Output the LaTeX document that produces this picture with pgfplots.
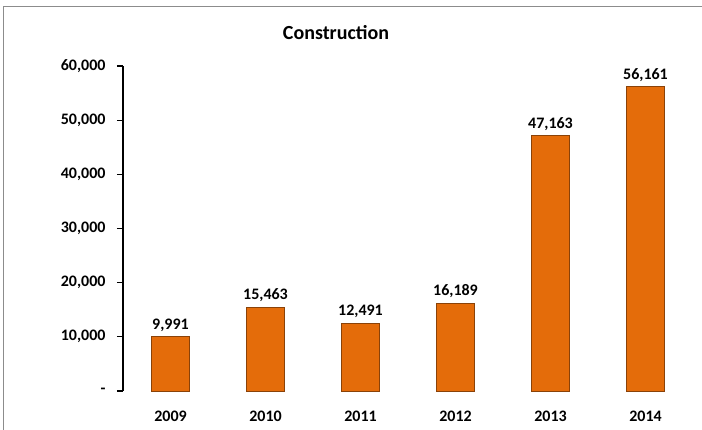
\documentclass[border=0pt]{standalone}
\usepackage{fontspec}
\setmainfont{Carlito}
\usepackage{pgfplots}
\pgfplotsset{compat=1.18}
\usepackage{pgfplotstable}
\definecolor{barfill}{HTML}{E46C0A}
\definecolor{baredge}{HTML}{8A4208}
\pgfplotstableread{
x y label
0 9991 9,991
1 15463 15,463
2 12491 12,491
3 16189 16,189
4 47163 47,163
5 56161 56,161
}\datatable
\begin{document}
\begin{tikzpicture}
\begin{axis}[
  at={(0,0)}, anchor=south west,
  scale only axis,
  width=570bp, height=325bp,
  xmin=-0.5, xmax=5.5,
  ymin=0, ymax=60000,
  scaled y ticks=false,
  axis y line*=left, axis x line*=bottom,
  axis line style={black, line width=1.3bp},
  x axis line style={draw=none},
  xtick=data,
  xticklabels={2009,2010,2011,2012,2013,2014},
  ytick={0,10000,20000,30000,40000,50000,60000},
  yticklabels={-,{10,000},{20,000},{30,000},{40,000},{50,000},{60,000}},
  every tick/.style={black, line width=1.1bp},
  xtick style={draw=none},
  tick align=outside,
  major tick length=6bp,
  ticklabel style={font=\bfseries\fontsize{16bp}{18bp}\selectfont},
  yticklabel style={anchor=east, xshift=-8bp},
  xticklabel style={anchor=north, yshift=-10bp},
  ybar, bar width=38bp,
  nodes near coords,
  point meta=explicit symbolic,
  every node near coord/.append style={font=\bfseries\fontsize{16bp}{18bp}\selectfont, anchor=south, yshift=1.5bp},
  clip=false,
]
\addplot[fill=barfill, draw=baredge, line width=0.8bp] table[x=x, y=y, meta=label] {\datatable};
\end{axis}
\path[use as bounding box] (-123bp,-39bp) rectangle (579bp,391bp);
\draw[black!45, line width=1bp] (-119bp,-45bp) -- (-119bp,384bp) -- (590bp,384bp);
\node[font=\bfseries\fontsize{20bp}{24bp}\selectfont] at (213bp,358bp) {Construction};
\end{tikzpicture}
\end{document}
